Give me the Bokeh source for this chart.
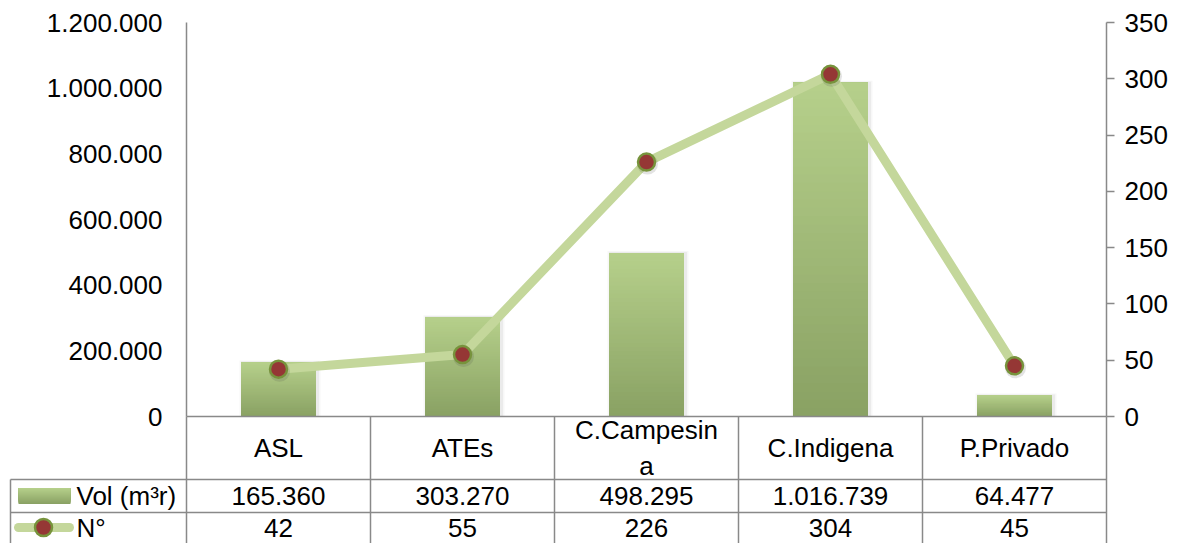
import numpy as np
from bokeh.plotting import figure
from bokeh.models import Range1d, LinearAxis, FixedTicker, CustomJSTickFormatter
from bokeh.core.properties import value
from bokeh.embed import file_html
from bokeh.resources import INLINE

# ---------------- data ----------------
categories = ["ASL", "ATEs", "C.Campesina", "C.Indigena", "P.Privado"]
header_labels = ["ASL", "ATEs", "C.Campesin\na", "C.Indigena", "P.Privado"]
vol = [165360, 303270, 498295, 1016739, 64477]
num = [42, 55, 226, 304, 45]
series_names = ["Vol (m³r)", "N°"]
left_ticks = [0, 200000, 400000, 600000, 800000, 1000000, 1200000]
right_ticks = [0, 50, 100, 150, 200, 250, 300, 350]

# ---------------- layout constants (pixels in figure) ----------------
W, H = 1170, 543
X0, X1 = 186, 1106          # left / right axis
Y_TOP, Y_ZERO = 22, 416     # top of value axes, zero line
ROW1, ROW2 = 479, 512       # table row borders
ROW3_TEXT = 527
LEG_LEFT = 10
FONT = "Liberation Sans"
FS = "26px"
GRID_COL = "#898989"

ncat = len(categories)
cat_w = (X1 - X0) / ncat
vmax = left_ticks[-1]
nmax = right_ticks[-1]
vpp = vmax / (Y_ZERO - Y_TOP)
npp = nmax / (Y_ZERO - Y_TOP)


def xd(px):
    return (px - X0) / cat_w


def yd(py):
    return (Y_ZERO - py) * vpp


def hexcol(rgb):
    return "#%02x%02x%02x" % tuple(int(round(t)) for t in rgb)


p = figure(width=W, height=H, output_backend="svg", toolbar_location=None,
           x_range=Range1d(xd(0), xd(W)), y_range=Range1d(yd(H), yd(0)),
           x_axis_location=None, min_border=0, min_border_left=0, min_border_right=0,
           min_border_top=0, min_border_bottom=0)
p.outline_line_color = None
p.grid.visible = False
p.background_fill_color = "white"
p.border_fill_color = "white"
p.extra_y_ranges = {"n": Range1d((Y_ZERO - H) * npp, Y_ZERO * npp)}

centers = [i + 0.5 for i in range(ncat)]

# ---------------- bars (vertical gradient, soft shadow) ----------------
bar_w = 75 / cat_w
for grow, alpha in [(6, 0.05), (3, 0.08)]:
    p.vbar(x=[c + 1.5 / cat_w for c in centers], top=[v + grow * vpp * 0.3 for v in vol],
           width=bar_w + grow / cat_w, bottom=0, fill_color="#606060", fill_alpha=alpha,
           line_color=None)

top_rgb = np.array([182, 208, 139])
bot_rgb = np.array([137, 161, 99])
NS = 40
xs, bots, tops, cols = [], [], [], []
for k in range(NS):
    f = (k + 0.5) / NS
    for c, v in zip(centers, vol):
        xs.append(c)
        bots.append(v * k / NS)
        tops.append(v)
        cols.append(hexcol(bot_rgb + (top_rgb - bot_rgb) * f))
p.vbar(x=xs, bottom=bots, top=tops, width=bar_w, fill_color=cols, line_color=None)

# ---------------- line + markers ----------------
LINE_COL = "#c4d79b"
p.line(x=centers, y=num, y_range_name="n", line_color=LINE_COL, line_width=9,
       line_join="round")
p.scatter(x=[c + 1 / cat_w for c in centers], y=[n - 2 * npp for n in num], y_range_name="n",
          size=21, fill_color="#404040", fill_alpha=0.15, line_color=None)
p.scatter(x=centers, y=num, y_range_name="n", size=17, fill_color="#953735",
          line_color="#77933c", line_width=2.5)

# ---------------- axes ----------------
ly = p.yaxis[0]
ly.fixed_location = 0
ly.bounds = (0, vmax)
ly.ticker = FixedTicker(ticks=left_ticks)
ly.formatter = CustomJSTickFormatter(code=r"""return tick.toFixed(0).replace(/\B(?=(\d{3})+(?!\d))/g, '.');""")
ly.major_tick_out = 0
ly.major_tick_in = 0
ly.minor_tick_out = 0
ly.minor_tick_in = 0
ly.major_label_standoff = 24
ly.axis_line_color = GRID_COL
ly.axis_line_width = 1.5
ly.major_label_text_font = FONT
ly.major_label_text_font_size = FS
ly.major_label_text_color = "black"

ry = LinearAxis(y_range_name="n", fixed_location=ncat, bounds=(0, nmax),
                ticker=FixedTicker(ticks=right_ticks))
ry.major_tick_out = 8
ry.major_tick_in = 0
ry.minor_tick_out = 0
ry.minor_tick_in = 0
ry.major_tick_line_color = GRID_COL
ry.major_tick_line_width = 1.5
ry.major_label_standoff = 10
ry.axis_line_color = GRID_COL
ry.axis_line_width = 1.5
ry.major_label_text_font = FONT
ry.major_label_text_font_size = FS
ry.major_label_text_color = "black"
p.add_layout(ry, "right")

# ---------------- data table ----------------
seg_x0, seg_y0, seg_x1, seg_y1 = [], [], [], []
for py, xl in [(Y_ZERO, 0), (ROW1, xd(LEG_LEFT)), (ROW2, xd(LEG_LEFT))]:
    seg_x0.append(xl); seg_x1.append(ncat); seg_y0.append(yd(py)); seg_y1.append(yd(py))
for i in range(ncat + 1):
    seg_x0.append(i); seg_x1.append(i); seg_y0.append(yd(Y_ZERO)); seg_y1.append(yd(H))
seg_x0.append(xd(LEG_LEFT)); seg_x1.append(xd(LEG_LEFT)); seg_y0.append(yd(ROW1)); seg_y1.append(yd(H))
p.segment(x0=seg_x0, y0=seg_y0, x1=seg_x1, y1=seg_y1, line_color=GRID_COL, line_width=1.5)

text_kw = dict(text_font=value(FONT), text_font_size=FS, text_color="black",
               text_baseline="middle")
p.text(x=centers, y=[yd((Y_ZERO + ROW1) / 2)] * ncat, text=header_labels,
       text_align="center", text_line_height=1.2, **text_kw)
vol_labels = [f"{v:,}".replace(",", ".") for v in vol]
num_labels = [str(n) for n in num]
p.text(x=centers, y=[yd((ROW1 + ROW2) / 2)] * ncat, text=vol_labels, text_align="center", **text_kw)
p.text(x=centers, y=[yd(ROW3_TEXT)] * ncat, text=num_labels, text_align="center", **text_kw)

# legend keys
p.text(x=[xd(76), xd(76)], y=[yd((ROW1 + ROW2) / 2), yd(ROW3_TEXT)], text=series_names,
       text_align="left", **text_kw)
KS = 16
kc_mid = yd((ROW1 + ROW2) / 2)
k_half = 8 * vpp
kb, kt, kc = [], [], []
for k in range(KS):
    f = (k + 0.5) / KS
    kb.append(kc_mid - k_half + 2 * k_half * k / KS)
    kt.append(kc_mid + k_half)
    kc.append(hexcol(bot_rgb + (top_rgb - bot_rgb) * f))
p.quad(left=[xd(18)] * KS, right=[xd(70)] * KS, bottom=kb, top=kt, fill_color=kc, line_color=None)
p.line(x=[xd(18), xd(69)], y=[yd(ROW3_TEXT)] * 2, line_color=LINE_COL, line_width=9, line_cap="round")
p.scatter(x=[xd(43)], y=[yd(ROW3_TEXT)], size=17, fill_color="#953735", line_color="#77933c", line_width=2.5)

open("out.html", "w").write(file_html(p, INLINE))
